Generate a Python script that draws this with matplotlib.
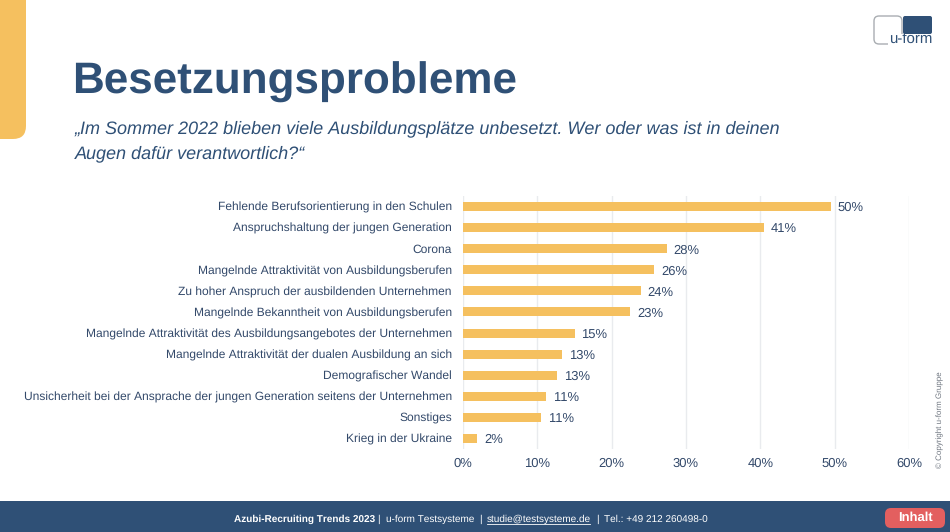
import matplotlib
matplotlib.use("Agg")
import matplotlib.pyplot as plt
from matplotlib.patches import FancyBboxPatch, Rectangle

W, H = 950, 532

CATEGORIES = [
    "Fehlende Berufsorientierung in den Schulen",
    "Anspruchshaltung der jungen Generation",
    "Corona",
    "Mangelnde Attraktivität von Ausbildungsberufen",
    "Zu hoher Anspruch der ausbildenden Unternehmen",
    "Mangelnde Bekanntheit von Ausbildungsberufen",
    "Mangelnde Attraktivität des Ausbildungsangebotes der Unternehmen",
    "Mangelnde Attraktivität der dualen Ausbildung an sich",
    "Demografischer Wandel",
    "Unsicherheit bei der Ansprache der jungen Generation seitens der Unternehmen",
    "Sonstiges",
    "Krieg in der Ukraine",
]
VALUES = [49.5, 40.5, 27.4, 25.7, 23.9, 22.5, 15.0, 13.3, 12.6, 11.2, 10.5, 1.9]
LABELS = ["50%", "41%", "28%", "26%", "24%", "23%", "15%", "13%", "13%", "11%", "11%", "2%"]
XTICKS = [0, 10, 20, 30, 40, 50, 60]

NAVY = "#2f5076"
TEXT = "#33496a"
YELLOW = "#f5c05f"
GRID = "#e9ebee"

plt.rcParams["font.family"] = ["Liberation Sans", "DejaVu Sans"]
plt.rcParams["text.hinting"] = "no_hinting"
plt.rcParams["text.hinting_factor"] = 1

fig = plt.figure(figsize=(W / 100, H / 100), dpi=100, facecolor="white")

# background layer in pixel coordinates
bg = fig.add_axes([0, 0, 1, 1])
bg.set_xlim(0, W)
bg.set_ylim(H, 0)
bg.axis("off")

# yellow tab top left
bg.add_patch(FancyBboxPatch((-40, -40), 66, 179, boxstyle="round,pad=0,rounding_size=13",
                            fc=YELLOW, ec="none"))

# footer
bg.add_patch(FancyBboxPatch((-20, 501), 990, 60, boxstyle="round,pad=0,rounding_size=6",
                            fc=NAVY, ec="none"))
bg.add_patch(FancyBboxPatch((885, 508), 60, 20, boxstyle="round,pad=0,rounding_size=6",
                            fc="#e35f5f", ec="none"))
bg.text(915, 518, "Inhalt", color="white", fontsize=9.5, fontweight="bold", ha="center", va="center")

FOOT = 7.25
bg.text(234, 519, "Azubi-Recruiting Trends 2023", color="white", fontsize=FOOT, fontweight="bold", va="center")
bg.text(377, 519, "|", color="white", fontsize=FOOT, va="center")
bg.text(386, 519, "u-form Testsysteme", color="white", fontsize=FOOT, va="center")
bg.text(479, 519, "|", color="white", fontsize=FOOT, va="center")
bg.text(487, 519, "studie@testsysteme.de", color="white", fontsize=FOOT, va="center")
bg.plot([487, 590], [524, 524], color="white", lw=0.6)
bg.text(596, 519, "|", color="white", fontsize=FOOT, va="center")
bg.text(604, 519, "Tel.: +49 212 260498-0", color="white", fontsize=FOOT, va="center")

# logo
bg.add_patch(FancyBboxPatch((874, 16), 28, 28, boxstyle="round,pad=0,rounding_size=5",
                            fc="white", ec="#a9adb2", lw=1))
bg.add_patch(FancyBboxPatch((903, 16), 29, 18, boxstyle="round,pad=0,rounding_size=2",
                            fc=NAVY, ec="none"))
bg.add_patch(Rectangle((888, 34), 46, 13, fc="white", ec="none"))
bg.text(932, 40, "u-form", color=NAVY, fontsize=10.6, ha="right", va="center")

# heading
bg.text(72.5, 94, "Besetzungsprobleme", color=NAVY, fontsize=31.4, fontweight="bold", va="baseline")
bg.text(75, 133, "„Im Sommer 2022 blieben viele Ausbildungsplätze unbesetzt. Wer oder was ist in deinen",
        color=NAVY, fontsize=12.85, style="italic", va="baseline")
bg.text(75, 158, "Augen dafür verantwortlich?“", color=NAVY, fontsize=12.85, style="italic", va="baseline")

# copyright
bg.text(940, 420, "© Copyright u-form Gruppe", color="#6f7680", fontsize=5.7, rotation=90,
        ha="center", va="center")

# chart: x 463-909, y 196-449 px
ax = fig.add_axes([463 / W, 1 - 449 / H, (909 - 463) / W, (449 - 196) / H])
ax.patch.set_alpha(0)
y = list(range(len(CATEGORIES)))
ax.barh(y, VALUES, height=0.43, color=YELLOW, zorder=3)
for yi, v, lab in zip(y, VALUES, LABELS):
    ax.annotate(lab, (v, yi), xytext=(5, 0), textcoords="offset points", va="center_baseline",
                color=TEXT, fontsize=9)
ax.set_xlim(0, 60)
ax.set_ylim(len(CATEGORIES) - 0.5, -0.5)
ax.set_yticks(y)
ax.set_yticklabels(CATEGORIES, fontsize=8.45, va="center_baseline")
ax.set_xticks(XTICKS)
ax.set_xticklabels([f"{t}%" for t in XTICKS], fontsize=9)
ax.tick_params(axis="both", length=0, labelcolor=TEXT)
ax.tick_params(axis="y", pad=8)
ax.tick_params(axis="x", pad=6)
ax.grid(axis="x", color=GRID, lw=1, zorder=0)
for s in ax.spines.values():
    s.set_visible(False)

fig.savefig("out.png", dpi=100)
